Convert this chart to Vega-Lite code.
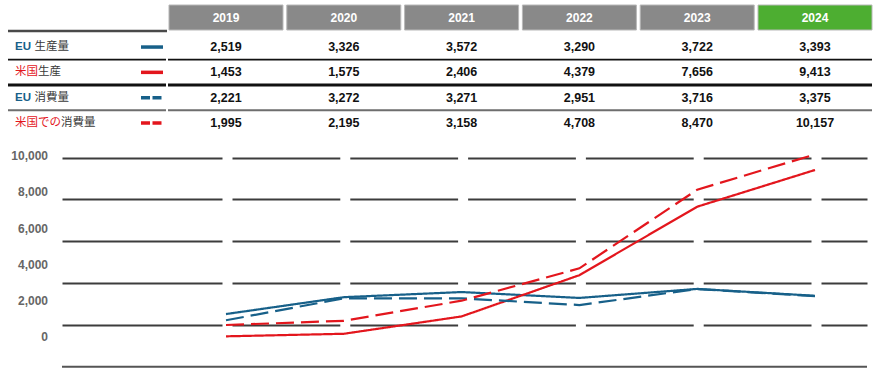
{
  "$schema": "https://vega.github.io/schema/vega-lite/v6.json",
  "width": 886,
  "height": 371,
  "autosize": "none",
  "padding": 0,
  "background": "white",
  "config": {"view": {"stroke": null}},
  "datasets": {
    "d": [
      {"series": "EU 生産量", "year": 2019, "value": 2519},
      {"series": "EU 生産量", "year": 2020, "value": 3326},
      {"series": "EU 生産量", "year": 2021, "value": 3572},
      {"series": "EU 生産量", "year": 2022, "value": 3290},
      {"series": "EU 生産量", "year": 2023, "value": 3722},
      {"series": "EU 生産量", "year": 2024, "value": 3393},
      {"series": "米国生産", "year": 2019, "value": 1453},
      {"series": "米国生産", "year": 2020, "value": 1575},
      {"series": "米国生産", "year": 2021, "value": 2406},
      {"series": "米国生産", "year": 2022, "value": 4379},
      {"series": "米国生産", "year": 2023, "value": 7656},
      {"series": "米国生産", "year": 2024, "value": 9413},
      {"series": "EU 消費量", "year": 2019, "value": 2221},
      {"series": "EU 消費量", "year": 2020, "value": 3272},
      {"series": "EU 消費量", "year": 2021, "value": 3271},
      {"series": "EU 消費量", "year": 2022, "value": 2951},
      {"series": "EU 消費量", "year": 2023, "value": 3716},
      {"series": "EU 消費量", "year": 2024, "value": 3375},
      {"series": "米国での消費量", "year": 2019, "value": 1995},
      {"series": "米国での消費量", "year": 2020, "value": 2195},
      {"series": "米国での消費量", "year": 2021, "value": 3158},
      {"series": "米国での消費量", "year": 2022, "value": 4708},
      {"series": "米国での消費量", "year": 2023, "value": 8470},
      {"series": "米国での消費量", "year": 2024, "value": 10157}
    ],
    "labels": [
      {"series": "EU 生産量", "prefix": "EU", "suffix": "生産量", "kind": "production"},
      {"series": "米国生産", "prefix": "米国", "suffix": "生産", "kind": "production"},
      {"series": "EU 消費量", "prefix": "EU", "suffix": "消費量", "kind": "consumption"},
      {"series": "米国での消費量", "prefix": "米国での", "suffix": "消費量", "kind": "consumption"}
    ],
    "one": [{}]
  },
  "resolve": {"scale": {"y": "independent"}, "axis": {"y": "independent"}},
  "layer": [
    {
      "layer": [
        {
          "data": {"name": "d"},
          "transform": [{"filter": "datum.series === 'EU 生産量'"}],
          "mark": {"type": "tick", "orient": "horizontal", "size": 114, "thickness": 25, "opacity": 1, "yOffset": -4.25, "stroke": "#b8b8b8", "strokeWidth": 1},
          "encoding": {
            "x": {"field": "year", "type": "quantitative", "scale": {"domain": [2017.0815, 2024.6027], "range": [0, 886], "zero": false, "nice": false}, "axis": null},
            "y": {"datum": "header", "type": "nominal", "scale": {"type": "point", "domain": ["header", "EU 生産量", "米国生産", "EU 消費量", "米国での消費量"], "range": [21.75, 122.95], "padding": 0}, "axis": null},
            "color": {"condition": {"test": "datum.year === 2024", "value": "#4dae31"}, "value": "#898989"}
          }
        },
        {
          "data": {"name": "d"},
          "transform": [{"filter": "datum.series === 'EU 生産量'"}],
          "mark": {"type": "text", "font": "Liberation Sans", "fontWeight": "bold", "fontSize": 12, "color": "white", "baseline": "middle", "align": "center", "yOffset": -4.25},
          "encoding": {
            "x": {"field": "year", "type": "quantitative"},
            "y": {"datum": "header", "type": "nominal"},
            "text": {"field": "year", "type": "quantitative", "format": "d"}
          }
        },
        {
          "data": {"name": "d"},
          "mark": {"type": "text", "font": "Liberation Sans", "fontWeight": "bold", "fontSize": 12.5, "color": "#111111", "baseline": "middle", "align": "center"},
          "encoding": {
            "x": {"field": "year", "type": "quantitative"},
            "y": {"field": "series", "type": "nominal"},
            "text": {"field": "value", "type": "quantitative", "format": ",d"}
          }
        },
        {
          "data": {"name": "labels"},
          "transform": [{"filter": "datum.prefix === 'EU'"}],
          "mark": {"type": "text", "font": "Liberation Sans, Noto Sans CJK JP", "fontSize": 11.5, "fontWeight": "bold", "baseline": "middle", "align": "left"},
          "encoding": {
            "x": {"datum": 2017.2088, "type": "quantitative"},
            "y": {"field": "series", "type": "nominal"},
            "text": {"field": "prefix", "type": "nominal"},
            "color": {"field": "series", "type": "nominal", "legend": null}
          }
        },
        {
          "data": {"name": "labels"},
          "transform": [{"filter": "datum.prefix !== 'EU'"}],
          "mark": {"type": "text", "font": "Liberation Sans, Noto Sans CJK JP", "fontSize": 11.5, "baseline": "middle", "align": "left"},
          "encoding": {
            "x": {"datum": 2017.2088, "type": "quantitative"},
            "y": {"field": "series", "type": "nominal"},
            "text": {"field": "prefix", "type": "nominal"},
            "color": {"field": "series", "type": "nominal", "legend": null}
          }
        },
        {
          "data": {"name": "labels"},
          "transform": [{"filter": "datum.prefix === 'EU'"}],
          "mark": {"type": "text", "font": "Liberation Sans, Noto Sans CJK JP", "fontSize": 11.5, "color": "#3a3a3a", "baseline": "middle", "align": "left", "dx": 19.5},
          "encoding": {
            "x": {"datum": 2017.2088, "type": "quantitative"},
            "y": {"field": "series", "type": "nominal"},
            "text": {"field": "suffix", "type": "nominal"}
          }
        },
        {
          "data": {"name": "labels"},
          "transform": [{"filter": "datum.prefix === '米国'"}],
          "mark": {"type": "text", "font": "Liberation Sans, Noto Sans CJK JP", "fontSize": 11.5, "color": "#3a3a3a", "baseline": "middle", "align": "left", "dx": 23},
          "encoding": {
            "x": {"datum": 2017.2088, "type": "quantitative"},
            "y": {"field": "series", "type": "nominal"},
            "text": {"field": "suffix", "type": "nominal"}
          }
        },
        {
          "data": {"name": "labels"},
          "transform": [{"filter": "datum.prefix === '米国での'"}],
          "mark": {"type": "text", "font": "Liberation Sans, Noto Sans CJK JP", "fontSize": 11.5, "color": "#3a3a3a", "baseline": "middle", "align": "left", "dx": 46},
          "encoding": {
            "x": {"datum": 2017.2088, "type": "quantitative"},
            "y": {"field": "series", "type": "nominal"},
            "text": {"field": "suffix", "type": "nominal"}
          }
        },
        {
          "data": {"name": "labels"},
          "transform": [{"filter": "datum.kind === 'production'"}],
          "mark": {"type": "rule", "strokeWidth": 3.5},
          "encoding": {
            "x": {"datum": 2018.2784, "type": "quantitative"},
            "x2": {"datum": 2018.4652},
            "y": {"field": "series", "type": "nominal"},
            "color": {"field": "series", "type": "nominal", "legend": null}
          }
        },
        {
          "data": {"name": "labels"},
          "transform": [{"filter": "datum.kind === 'consumption'"}],
          "mark": {"type": "rule", "strokeWidth": 3.5, "strokeDash": [9, 2.5]},
          "encoding": {
            "x": {"datum": 2018.2784, "type": "quantitative"},
            "x2": {"datum": 2018.4652},
            "y": {"field": "series", "type": "nominal"},
            "color": {"field": "series", "type": "nominal", "legend": null}
          }
        },
        {
          "data": {"name": "one"},
          "mark": {"type": "rule", "strokeWidth": 2.5, "color": "#4a4a4a", "yOffset": 9.25},
          "encoding": {
            "x": {"datum": 2017.1494, "type": "quantitative"},
            "x2": {"datum": 2018.4992},
            "y": {"datum": "header", "type": "nominal"}
          }
        },
        {
          "data": {"name": "one"},
          "mark": {"type": "rule", "strokeWidth": 1.7, "color": "#111111", "yOffset": 12.65, "strokeDash": [158, 2, 1000]},
          "encoding": {
            "x": {"datum": 2017.1494, "type": "quantitative"},
            "x2": {"datum": 2024.4839},
            "y": {"datum": "EU 生産量", "type": "nominal"}
          }
        },
        {
          "data": {"name": "one"},
          "mark": {"type": "rule", "strokeWidth": 3, "color": "#111111", "yOffset": 12.65, "strokeDash": [158, 2, 1000]},
          "encoding": {
            "x": {"datum": 2017.1494, "type": "quantitative"},
            "x2": {"datum": 2024.4839},
            "y": {"datum": "米国生産", "type": "nominal"}
          }
        },
        {
          "data": {"name": "one"},
          "mark": {"type": "rule", "strokeWidth": 2, "color": "#6e6e6e", "yOffset": 12.65, "strokeDash": [158, 2, 1000]},
          "encoding": {
            "x": {"datum": 2017.1494, "type": "quantitative"},
            "x2": {"datum": 2024.4839},
            "y": {"datum": "EU 消費量", "type": "nominal"}
          }
        }
      ]
    },
    {
      "layer": [
        {
          "data": {"name": "one"},
          "mark": {"type": "rule", "strokeWidth": 2, "color": "#555555"},
          "encoding": {
            "x": {"datum": 2017.6078, "type": "quantitative"},
            "x2": {"datum": 2024.4414},
            "y": {"datum": 0, "type": "quantitative", "scale": {"domain": [0, 10000], "range": [366.7, 157.7], "zero": false, "nice": false},
              "axis": {"orient": "left", "grid": true, "values": [2000, 4000, 6000, 8000, 10000], "labels": false, "ticks": false, "domain": false, "title": null, "gridColor": "#3c3c3c", "gridWidth": 2, "gridOpacity": 1,
                "gridDash": [0, 62, 160, 10, 107.8, 10, 107.8, 10, 107.8, 10, 107.8, 10, 107.8, 10, 46, 100]}}
          }
        },
        {
          "data": {"name": "d"},
          "mark": {"type": "line", "strokeWidth": 2.2},
          "encoding": {
            "x": {"field": "year", "type": "quantitative"},
            "y": {"field": "value", "type": "quantitative"},
            "color": {"field": "series", "type": "nominal", "legend": null,
              "scale": {"domain": ["EU 生産量", "米国生産", "EU 消費量", "米国での消費量"], "range": ["#176089", "#e3161d", "#176089", "#e3161d"]}},
            "strokeDash": {"field": "series", "type": "nominal", "legend": null,
              "scale": {"domain": ["EU 生産量", "米国生産", "EU 消費量", "米国での消費量"], "range": [[1, 0], [1, 0], [18, 7], [18, 7]]}}
          }
        }
      ]
    },
    {
      "data": {"name": "d"},
      "mark": {"type": "point", "opacity": 0},
      "encoding": {
        "x": {"field": "year", "type": "quantitative"},
        "y": {"field": "value", "type": "quantitative", "scale": {"domain": [0, 10000], "range": [336.7, 155.7], "zero": false, "nice": false},
          "axis": {"orient": "left", "offset": -47.5, "values": [0, 2000, 4000, 6000, 8000, 10000], "format": ",d", "grid": false, "ticks": false, "tickSize": 0, "domain": false, "title": null, "labelPadding": 0, "labelFont": "Liberation Sans", "labelFontWeight": "bold", "labelFontSize": 12, "labelColor": "#666666", "labelAlign": "right", "labelBaseline": "middle"}}
      }
    }
  ]
}
